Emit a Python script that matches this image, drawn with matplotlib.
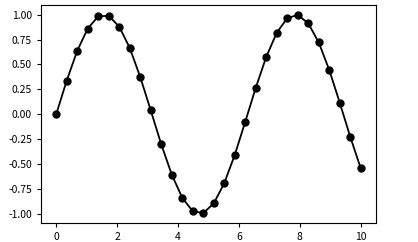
import matplotlib
matplotlib.use('Agg')
import matplotlib.pyplot as plt

plt.rcParams['font.family'] = ['Noto Sans CJK SC', 'DejaVu Sans']
plt.rcParams['axes.unicode_minus'] = False

# 点の座標
xs = [0.0, 0.345, 0.690, 1.034, 1.379, 1.724, 2.069, 2.414, 2.759, 3.103,
      3.448, 3.793, 4.138, 4.483, 4.828, 5.172, 5.517, 5.862, 6.207, 6.552,
      6.897, 7.241, 7.586, 7.931, 8.276, 8.621, 8.966, 9.310, 9.655, 10.0]
ys = [0.0, 0.338, 0.637, 0.860, 0.982, 0.988, 0.879, 0.665, 0.373, 0.039,
      -0.302, -0.606, -0.840, -0.974, -0.993, -0.896, -0.693, -0.409, -0.076, 0.266,
      0.576, 0.818, 0.964, 0.997, 0.912, 0.720, 0.443, 0.115, -0.228, -0.544]

fig = plt.figure(figsize=(4.18, 2.42), dpi=100)
ax = fig.add_axes([41 / 418, 1 - 223 / 242, (376 - 41) / 418, (223 - 5) / 242])

ax.plot(xs, ys, '-o', color='black', markersize=5, linewidth=1.3)

ax.set_yticks([-1.0, -0.75, -0.5, -0.25, 0.0, 0.25, 0.5, 0.75, 1.0])
ax.tick_params(labelsize=7.5, length=3)

fig.savefig('out.png', dpi=100)
